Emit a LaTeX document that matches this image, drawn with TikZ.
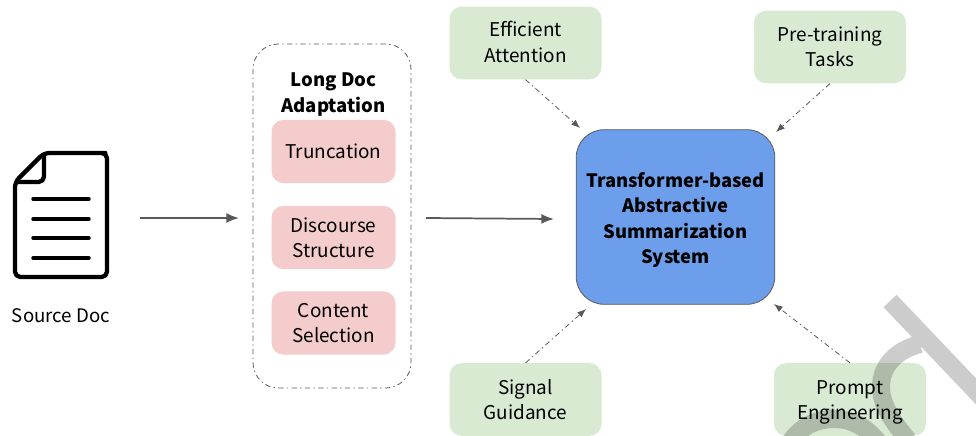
\documentclass[tikz,border=0pt]{standalone}
\usepackage{fontspec}
\setmainfont{Noto Sans CJK SC}
\usetikzlibrary{arrows.meta}
\definecolor{boxgreen}{HTML}{D9EAD3}
\definecolor{boxred}{HTML}{F4CCCC}
\definecolor{boxblue}{HTML}{6D9EEB}
\definecolor{linegray}{HTML}{595959}
\tikzset{
  topic/.style={fill=boxgreen, rounded corners=9pt, minimum width=114pt, minimum height=54.5pt, align=center, inner sep=0pt, font=\fontsize{14.2}{19}\selectfont},
  adapt/.style={fill=boxred, rounded corners=9pt, minimum width=93pt, minimum height=47.5pt, align=center, inner sep=0pt, font=\fontsize{14.2}{19}\selectfont},
  solidarrow/.style={draw=linegray, line width=1.3pt, -{Latex[length=9.5pt,width=7.5pt]}},
  dotarrow/.style={draw=linegray, line width=0.6pt, dash pattern=on 4pt off 2.5pt on 1pt off 2.5pt, -{Latex[length=6.5pt,width=5pt]}}
}
\begin{document}
\begin{tikzpicture}[x=0.75pt, y=-0.75pt]
\useasboundingbox (0,0) rectangle (976,436);

% icon
\draw[line width=3.2pt, rounded corners=4pt, line join=round] (44,153) -- (100,153) -- (107,153) -- (107,277) -- (15,277) -- (15,182) -- cycle;
\draw[line width=3.2pt, rounded corners=4pt, line join=round] (44,153) -- (44,182) -- (15,182);
\foreach \y in {199,219,238,258}
  \draw[line width=2.6pt, line cap=round] (33,\y) -- (89,\y);
\node (source) at (61,315.5) [font=\fontsize{14}{18}\selectfont, inner sep=0pt] {Source Doc};
\coordinate (iconout) at (140,218);

% adaptation group
\node (group) at (332,216) [draw=linegray, line width=0.6pt, dash pattern=on 4pt off 2.5pt on 1pt off 2.5pt, rounded corners=19pt, minimum width=118.5pt, minimum height=258pt] {};
\node (grouptitle) at (333.5,94.5) [align=center, inner sep=0pt, font=\fontsize{13.9}{19}\bfseries\selectfont] {Long Doc\\Adaptation};
\node (trunc) at (333.5,151.5) [adapt] {Truncation};
\node (disc) at (333.5,237.5) [adapt] {Discourse\\Structure};
\node (content) at (333.5,323) [adapt] {Content\\Selection};

% system
\node (system) at (675.5,217) [draw=linegray, line width=0.6pt, fill=boxblue, rounded corners=21pt, minimum width=149pt, minimum height=131pt, inner sep=0pt] {};
\node (systemtext) at (675.5,220) [align=center, inner sep=0pt, font=\fontsize{13.8}{19}\bfseries\selectfont] {Transformer-based\\Abstractive\\Summarization\\System};

% topics
\node (effic) at (525.5,43) [topic] {};
\node (efficetext) at (525.5,42) [align=center, inner sep=0pt, font=\fontsize{14.2}{19}\selectfont] {Efficient\\Attention};
\node (pretrain) at (830,47) [topic] {Pre-training\\Tasks};
\node (signal) at (525.5,399.5) [topic] {Signal\\Guidance};
\node (prompt) at (850,399.5) [topic] {};
\node (prompttext) at (850,402.5) [align=center, inner sep=0pt, font=\fontsize{14.2}{19}\selectfont] {Prompt\\Engineering};

% arrows
\coordinate (groupin) at (239,218);
\draw[solidarrow] (iconout) -- (groupin);
\coordinate (groupout) at (426,218);
\coordinate (systemin) at (554,219);
\draw[solidarrow] (groupout) -- (systemin);
\coordinate (efficend) at (580,128);
\coordinate (pretrainend) at (776,132);
\coordinate (signalend) at (586,309);
\coordinate (promptend) at (774,304);
\draw[dotarrow] (effic.south) -- (efficend);
\draw[dotarrow] (pretrain.south) -- (pretrainend);
\draw[dotarrow] (signal.north) -- (signalend);
\draw[dotarrow] (prompt.north) -- (promptend);

% watermark
\draw[black, opacity=0.2, line width=13.5pt]
  (890,301) -- (990,406)
  (920,344) .. controls (897,350) and (881,365) .. (881,387) .. controls (881,405) and (893,422) .. (908,440)
  (790,442) .. controls (802,425) and (818,419) .. (834,419) .. controls (850,419) and (866,426) .. (878,442);
\end{tikzpicture}
\end{document}
